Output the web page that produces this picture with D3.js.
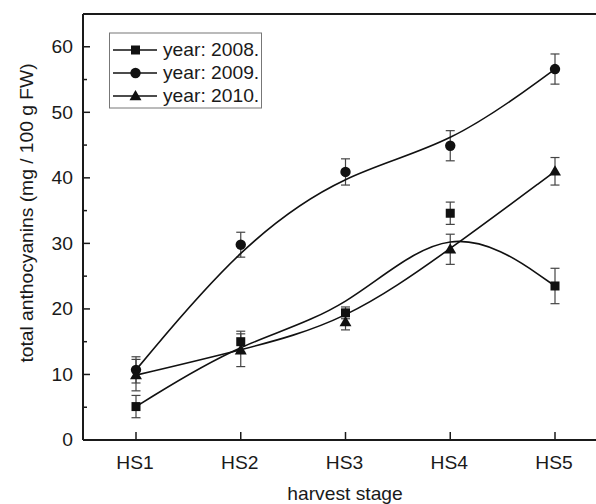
<!DOCTYPE html>
<html>
<head>
<meta charset="utf-8">
<script src="https://cdn.jsdelivr.net/npm/d3@7"></script>
<style>
  html, body { margin: 0; padding: 0; background: #fff; }
  text { font-family: "Liberation Sans", Arial, sans-serif; fill: #1a1a1a; }
</style>
</head>
<body>
<svg id="chart" width="596" height="504"></svg>
<script>
const categories = ["HS1", "HS2", "HS3", "HS4", "HS5"];
const years = ["year: 2008.", "year: 2009.", "year: 2010."];
const values2008 = [5.1, 15.0, 19.4, 34.6, 23.5];
const errors2008 = [1.7, 1.6, 0.9, 1.7, 2.7];
const values2009 = [10.7, 29.8, 40.9, 44.9, 56.6];
const errors2009 = [2.0, 1.9, 2.0, 2.3, 2.3];
const values2010 = [9.9, 13.7, 18.0, 29.1, 41.0];
const errors2010 = [2.4, 2.5, 1.2, 2.3, 2.1];
const yTicks = [0, 10, 20, 30, 40, 50, 60];
const yMinorTicks = [5, 15, 25, 35, 45, 55];
const markers = ["square", "circle", "triangle"];

const series = [
  { name: years[0], values: values2008, errors: errors2008, marker: markers[0] },
  { name: years[1], values: values2009, errors: errors2009, marker: markers[1] },
  { name: years[2], values: values2010, errors: errors2010, marker: markers[2] }
];

(function () {
const svg = d3.select("#chart");
const pLeft = 83, pRight = 596, pTop = 14, pBottom = 440;
const x = d3.scalePoint().domain(categories).range([136, 555]);
const y = d3.scaleLinear().domain([0, 65]).range([pBottom, pTop]);
const sx = 1.1;

function drawMarker(g, type, cx, cy) {
  if (type === "square") {
    g.append("rect").attr("x", cx - 4.5).attr("y", cy - 4.5).attr("width", 9).attr("height", 9).attr("fill", "#111");
  } else if (type === "circle") {
    g.append("circle").attr("cx", cx).attr("cy", cy).attr("r", 5.2).attr("fill", "#111");
  } else {
    g.append("path").attr("d", d3.symbol().type(d3.symbolTriangle).size(62)()).attr("transform", `translate(${cx},${cy + 0.8})`).attr("fill", "#111");
  }
}

// frame top line
svg.append("line").attr("x1", pLeft).attr("x2", pRight).attr("y1", pTop).attr("y2", pTop).attr("stroke", "#1a1a1a").attr("stroke-width", 2);

// error bars
series.forEach(s => {
  const g = svg.append("g").attr("stroke", "#444").attr("stroke-width", 1.2);
  s.values.forEach((v, i) => {
    const cx = x(categories[i]);
    g.append("line").attr("x1", cx).attr("x2", cx).attr("y1", y(v - s.errors[i])).attr("y2", y(v + s.errors[i]));
    [v - s.errors[i], v + s.errors[i]].forEach(e => {
      g.append("line").attr("x1", cx - 4.5).attr("x2", cx + 4.5).attr("y1", y(e)).attr("y2", y(e));
    });
  });
});

// curves
const line = d3.line().x((d, i) => x(categories[i])).y(d => y(d)).curve(d3.curveBasis);
series.forEach(s => {
  svg.append("path").attr("d", line(s.values)).attr("fill", "none").attr("stroke", "#111").attr("stroke-width", 1.6);
});

// markers
series.forEach(s => {
  const g = svg.append("g");
  s.values.forEach((v, i) => drawMarker(g, s.marker, x(categories[i]), y(v)));
});

// axes
const yAxis = svg.append("g").attr("transform", `translate(${pLeft},0)`);
yAxis.append("line").attr("x1", 0).attr("x2", 0).attr("y1", pTop).attr("y2", pBottom).attr("stroke", "#1a1a1a").attr("stroke-width", 2);
yTicks.forEach(t => {
  yAxis.append("line").attr("x1", 0).attr("x2", 7).attr("y1", y(t)).attr("y2", y(t)).attr("stroke", "#1a1a1a").attr("stroke-width", 1.5);
  yAxis.append("text").attr("transform", `translate(-10,${y(t) + 6.2}) scale(${sx},1)`).attr("text-anchor", "end").attr("font-size", 17.5).text(t);
});
yMinorTicks.forEach(t => {
  yAxis.append("line").attr("x1", 0).attr("x2", 4).attr("y1", y(t)).attr("y2", y(t)).attr("stroke", "#1a1a1a").attr("stroke-width", 1.5);
});

const xAxis = svg.append("g");
xAxis.append("line").attr("x1", pLeft).attr("x2", pRight).attr("y1", pBottom).attr("y2", pBottom).attr("stroke", "#1a1a1a").attr("stroke-width", 2);
categories.forEach(c => {
  xAxis.append("line").attr("x1", x(c)).attr("x2", x(c)).attr("y1", pBottom).attr("y2", pBottom - 8).attr("stroke", "#1a1a1a").attr("stroke-width", 1.5);
  xAxis.append("text").attr("transform", `translate(${x(c) - 1},468.5) scale(${sx},1)`).attr("text-anchor", "middle").attr("font-size", 17.5).text(c);
});

// axis titles
svg.append("text").attr("transform", `translate(345,500) scale(${sx},1)`).attr("text-anchor", "middle").attr("font-size", 17.5).text("harvest stage");
svg.append("text").attr("transform", `translate(33,213) rotate(-90) scale(${sx},1)`).attr("text-anchor", "middle").attr("font-size", 17.5).text("total anthocyanins (mg / 100 g FW)");

// legend
const lg = svg.append("g");
lg.append("rect").attr("x", 109.5).attr("y", 33).attr("width", 152).attr("height", 75).attr("fill", "#fff").attr("stroke", "#777").attr("stroke-width", 1);
series.forEach((s, i) => {
  const ly = 50 + i * 23;
  lg.append("line").attr("x1", 113).attr("x2", 157).attr("y1", ly).attr("y2", ly).attr("stroke", "#111").attr("stroke-width", 1.6);
  drawMarker(lg, s.marker, 135.5, ly);
  lg.append("text").attr("transform", `translate(163,${ly + 6.3}) scale(${sx},1)`).attr("font-size", 17.5).text(s.name);
});
})();
</script>
</body>
</html>
